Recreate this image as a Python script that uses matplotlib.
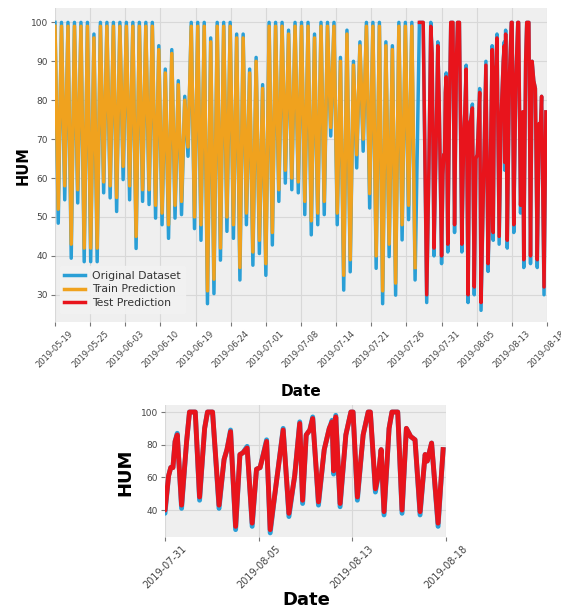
import numpy as np
import matplotlib
matplotlib.use("Agg")
import matplotlib.pyplot as plt

# tick dates (index positions in hours from the start of the series)
date_labels = ["2019-05-19", "2019-05-25", "2019-06-03", "2019-06-10", "2019-06-19",
               "2019-06-24", "2019-07-01", "2019-07-08", "2019-07-14", "2019-07-21",
               "2019-07-26", "2019-07-31", "2019-08-05", "2019-08-13", "2019-08-18"]
tick_hours = [0, 130, 260, 390, 520, 650, 780, 910, 1040, 1170, 1300, 1430, 1560, 1690, 1820]

# training part: daily max / min humidity, 12 h apart
train_step_h = 12
orig_peaks = [100, 100, 100, 100, 100, 100, 97, 100, 100, 100,
              100, 100, 100, 100, 100, 100, 94, 88, 93, 85,
              81, 100, 100, 100, 96, 100, 100, 100, 97, 97,
              88, 91, 84, 100, 100, 100, 98, 100, 100, 100,
              97, 100, 100, 100, 91, 98, 90, 95, 100, 100,
              100, 95, 94, 100, 100, 100]
orig_lows = [48.4, 54.4, 39.4, 53.6, 38.5, 38.5, 38.5, 56.2, 54.9, 51.4,
             59.6, 54.4, 41.9, 54.0, 53.2, 49.7, 48.0, 44.5, 49.7, 50.6,
             65.6, 47.0, 44.0, 27.7, 30.3, 38.9, 46.3, 44.5, 33.8, 48.0,
             37.6, 40.6, 35.0, 42.8, 54.0, 58.7, 57.0, 56.2, 50.6, 45.4,
             48.0, 50.6, 70.8, 48.0, 31.2, 35.9, 62.6, 66.9, 52.3, 36.8,
             27.7, 39.8, 29.9, 44.1, 49.3, 33.8]
pred_peaks = [99, 99, 99, 99, 99, 99, 96, 99, 99, 99,
              99, 99, 99, 99, 99, 99, 93, 87, 92, 84,
              80, 99, 99, 99, 95, 99, 99, 99, 96, 96,
              87, 90, 83, 99, 99, 99, 97, 99, 99, 99,
              96, 99, 99, 99, 90, 97, 89, 94, 99, 99,
              99, 94, 93, 99, 99, 99]
pred_lows = [52, 58, 43, 57, 42, 42, 42, 59, 58, 55,
             63, 58, 45, 57, 57, 53, 51, 48, 53, 54,
             68, 50, 48, 31, 34, 42, 50, 48, 37, 51,
             41, 44, 38, 46, 57, 62, 60, 59, 54, 49,
             51, 54, 73, 51, 35, 39, 66, 70, 56, 40,
             31, 43, 33, 48, 53, 37]

# test part
test_hours = [1348, 1362, 1375, 1383, 1390, 1395, 1402, 1410, 1416, 1421,
              1430, 1435, 1438, 1441, 1444, 1447, 1453, 1460, 1464, 1472,
              1478, 1485, 1489, 1496, 1505, 1512, 1516, 1521, 1528, 1534,
              1538, 1544, 1551, 1557, 1562, 1571, 1576, 1584, 1594, 1602,
              1610, 1617, 1621, 1626, 1631, 1635, 1643, 1651, 1658, 1662,
              1664, 1667, 1673, 1681, 1688, 1691, 1697, 1705, 1712, 1715,
              1722, 1726, 1730, 1734, 1741, 1745, 1753, 1759, 1765, 1771,
              1777, 1784, 1791, 1794, 1800, 1809, 1816]
test_orig = [100, 100, 28, 62, 100, 92, 40, 70, 95, 80,
             38, 61, 66, 66, 82, 87, 41, 82, 100, 100,
             46, 90, 100, 100, 41, 71, 77, 89, 28, 74,
             75, 79, 30, 65, 66, 83, 26, 55, 90, 36,
             61, 94, 44, 86, 89, 97, 43, 77, 90, 95,
             62, 98, 42, 86, 100, 100, 46, 86, 100, 100,
             51, 61, 77, 37, 90, 100, 100, 38, 90, 85,
             83, 37, 74, 70, 81, 30, 77]
test_pred = [100, 100, 30, 62, 99, 92, 42, 70, 94, 80,
             40, 61, 66, 66, 82, 86, 43, 82, 100, 100,
             48, 90, 100, 100, 43, 71, 77, 88, 30, 74,
             75, 78, 32, 65, 66, 82, 28, 55, 89, 38,
             61, 93, 46, 86, 89, 96, 45, 77, 90, 94,
             64, 97, 44, 86, 100, 100, 48, 86, 100, 100,
             53, 61, 77, 39, 90, 100, 100, 40, 90, 85,
             83, 39, 74, 70, 81, 32, 77]

C_ORIG = "#2a9fd6"
C_TRAIN = "#f0a21e"
C_TEST = "#e8141c"
BG = "#efefef"

train_orig = np.column_stack([orig_peaks, orig_lows]).ravel()
train_pred = np.column_stack([pred_peaks, pred_lows]).ravel()
train_x = np.arange(len(train_orig)) * train_step_h

all_x = np.concatenate([train_x, test_hours])
all_orig = np.concatenate([train_orig, test_orig])


def style_ax(ax):
    ax.set_facecolor(BG)
    ax.grid(True, color="#d8d8d8", linewidth=0.8)
    ax.set_axisbelow(True)
    for s in ax.spines.values():
        s.set_visible(False)
    ax.tick_params(axis="both", colors="#777777", length=3, width=0.8, pad=2)
    for lab in ax.get_xticklabels() + ax.get_yticklabels():
        lab.set_color("#444444")


fig = plt.figure(figsize=(5.61, 6.11), dpi=100)

# top chart
ax1 = fig.add_axes([55 / 561, 1 - 322 / 611, 492 / 561, 314 / 611])
ax1.plot(all_x, all_orig, color=C_ORIG, lw=2.5, label="Original Dataset")
ax1.plot(train_x, train_pred, color=C_TRAIN, lw=2.5, label="Train Prediction")
ax1.plot(test_hours, test_pred, color=C_TEST, lw=2.5, label="Test Prediction")
ax1.set_xlim(tick_hours[0], tick_hours[-1])
ax1.set_ylim(23, 103.7)
ax1.set_yticks([30, 40, 50, 60, 70, 80, 90, 100])
ax1.set_xticks(tick_hours)
ax1.set_xticklabels(date_labels, rotation=45, fontsize=6)
ax1.tick_params(axis="y", labelsize=6.5)
style_ax(ax1)
leg = ax1.legend(loc="lower left", bbox_to_anchor=(0.01, 0.03), borderaxespad=0,
                 fontsize=7.8, labelspacing=0.35, handlelength=1.9, handletextpad=0.7,
                 facecolor="#f2f2f2", edgecolor="#f2f2f2", framealpha=0.9)
for t in leg.get_texts():
    t.set_color("#333333")
for h in leg.get_lines():
    h.set_linewidth(2.5)
fig.text(23 / 561, 1 - 166 / 611, "HUM", rotation=90, ha="center", va="center",
         fontsize=10.5, fontweight="bold")
fig.text(301 / 561, 1 - 392 / 611, "Date", ha="center", va="center",
         fontsize=11, fontweight="bold")

# bottom chart: test part only
ax2 = fig.add_axes([165 / 561, 1 - 537 / 611, 281 / 561, 132 / 611])
ax2.plot(test_hours, test_orig, color=C_ORIG, lw=3.5)
ax2.plot(test_hours, test_pred, color=C_TEST, lw=3.5)
ax2.set_xlim(tick_hours[11], tick_hours[-1])
ax2.set_ylim(23.5, 104.3)
ax2.set_yticks([40, 60, 80, 100])
ax2.set_xticks(tick_hours[11:])
ax2.set_xticklabels(date_labels[11:], rotation=45, fontsize=7)
ax2.tick_params(axis="y", labelsize=6.5)
style_ax(ax2)
fig.text(125 / 561, 1 - 472 / 611, "HUM", rotation=90, ha="center", va="center",
         fontsize=13, fontweight="bold")
fig.text(306 / 561, 1 - 600 / 611, "Date", ha="center", va="center",
         fontsize=13, fontweight="bold")

fig.savefig("out.png", dpi=100, facecolor="white")
